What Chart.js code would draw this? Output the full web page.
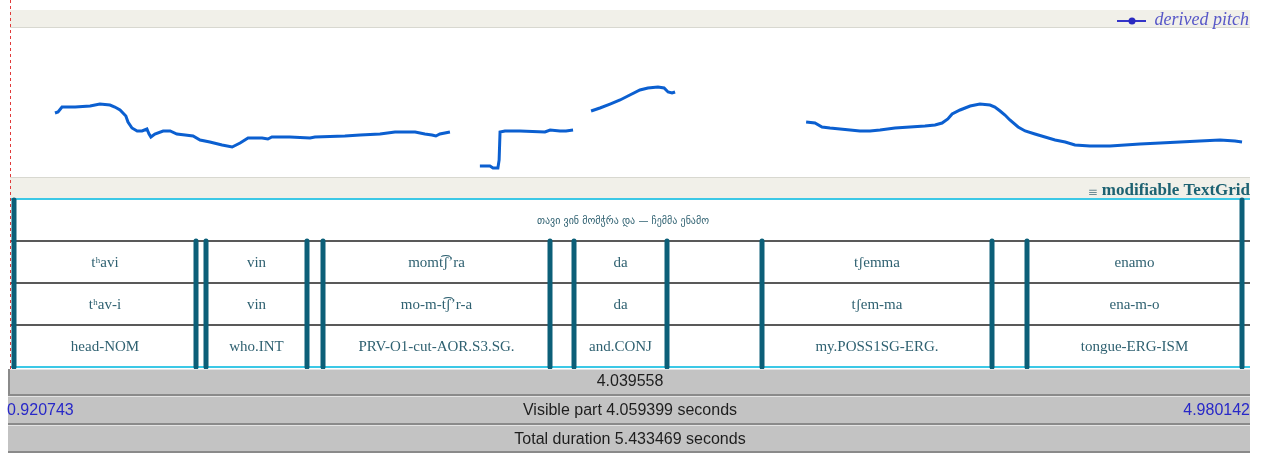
<!DOCTYPE html>
<html>
<head>
<meta charset="utf-8">
<script src="https://cdn.jsdelivr.net/npm/chart.js@4"></script>
<style>
  html, body { margin: 0; padding: 0; background: #fff; overflow: hidden; }
  canvas { display: block; }
</style>
</head>
<body>
<canvas id="grafico" width="1262" height="453"></canvas>
<script>
// visible window (seconds)
const visibleStart = 0.920743;
const visibleEnd   = 4.980142;
const selectionDur = 4.039558;
const visibleDur   = 4.059399;
const totalDur     = 5.433469;

// derived pitch (s, Hz); null = unvoiced gap
const pitchTimes = [
  1.068, 1.078, 1.091, 1.134, 1.183, 1.215, 1.248, 1.264, 1.281, 1.300, 1.307, 1.320, 1.337, 1.353,
  1.369, 1.376, 1.382, 1.395, 1.422, 1.445, 1.467, 1.494, 1.520, 1.543, 1.575, 1.615, 1.648, 1.674,
  1.700, 1.746, 1.765, 1.778, 1.837, 1.903, 1.919, 2.017, 2.067, 2.132, 2.181, 2.247, 2.279, 2.302,
  2.315, 2.328, 2.361,
  2.410,
  2.459, 2.492, 2.502, 2.518, 2.522, 2.525, 2.541, 2.590, 2.672, 2.689, 2.721, 2.741, 2.764,
  2.790,
  2.823, 2.852, 2.885, 2.918, 2.950, 2.983, 3.009, 3.042, 3.062, 3.075, 3.088, 3.098,
  3.300,
  3.527, 3.556, 3.579, 3.605, 3.638, 3.671, 3.703, 3.736, 3.769, 3.818, 3.867, 3.916, 3.949, 3.972,
  3.991, 4.005, 4.031, 4.064, 4.096, 4.129, 4.145, 4.162, 4.178, 4.194, 4.221, 4.244, 4.276, 4.309,
  4.342, 4.375, 4.407, 4.456, 4.522, 4.571, 4.620, 4.686, 4.751, 4.816, 4.882, 4.931, 4.954
];
const pitchHz = [
  171.6, 173.2, 180.7, 180.7, 182.2, 185.2, 183.7, 180.7, 176.2, 167.1, 158.1, 149.0, 144.5, 144.5,
  147.5, 139.9, 135.4, 139.9, 144.5, 144.5, 139.9, 138.4, 136.9, 130.9, 127.9, 123.3, 120.3, 126.3,
  133.9, 133.9, 132.4, 135.4, 135.4, 133.9, 135.4, 136.9, 138.4, 139.9, 143.0, 143.0, 139.9, 138.4,
  136.9, 139.9, 143.0,
  null,
  91.6, 91.6, 88.6, 88.6, 100.7, 143.0, 144.5, 144.5, 143.0, 146.0, 144.5, 144.5, 146.0,
  null,
  174.7, 179.2, 185.2, 191.3, 198.8, 206.4, 209.4, 210.9, 209.4, 203.4, 201.8, 203.4,
  null,
  158.1, 156.5, 150.5, 149.0, 147.5, 146.0, 144.5, 144.5, 146.0, 149.0, 150.5, 152.0, 153.5, 156.5,
  162.6, 170.1, 176.2, 182.2, 185.2, 183.7, 180.7, 174.7, 168.6, 161.1, 150.5, 144.5, 139.9, 135.4,
  130.9, 127.9, 123.3, 121.8, 121.8, 123.3, 124.8, 126.3, 127.9, 129.4, 130.9, 129.4, 127.9
];
const pitchMin = 75;
const pitchMax = 300;

// TextGrid
const boundaryTimes = [0.9338, 1.5297, 1.5624, 1.8930, 1.9454, 2.6885, 2.7671, 3.0716, 3.3826, 4.1355, 4.2501, 4.9539];
const sentenceLabel = 'თავი ვინ მომჭრა და — ჩემმა ენამო';
const wordLabels  = ['tʰavi', '', 'vin', '', 'momt͡ʃ\u2019ra', '', 'da', '', 'tʃemma', '', 'enamo'];
const morphLabels = ['tʰav-i', '', 'vin', '', 'mo-m-t͡ʃ\u2019r-a', '', 'da', '', 'tʃem-ma', '', 'ena-m-o'];
const glossLabels = ['head-NOM', '', 'who.INT', '', 'PRV-O1-cut-AOR.S3.SG.', '', 'and.CONJ', '', 'my.POSS1SG-ERG.', '', 'tongue-ERG-ISM'];

const pitchPoints = pitchTimes.map((t, i) => ({ x: t, y: pitchHz[i] }));

const tierTop = 199, tierH = 42;
const labelColor = '#2f6171';
const boundColor = '#0c5f78';

function grayBar(c, x0, x1, y0, y1) {
  c.fillStyle = '#c3c3c3';
  c.fillRect(x0, y0, x1 - x0, y1 - y0);
  c.fillStyle = '#8a8a8a';
  c.fillRect(x0, y1 - 2, x1 - x0, 2);
  c.fillStyle = '#e4e4e4';
  c.fillRect(x0, y0, x1 - x0, 1);
}

const praatPlugin = {
  id: 'praat',
  beforeDraw(chart) {
    const c = chart.ctx, a = chart.chartArea;
    c.save();
    c.fillStyle = '#fff';
    c.fillRect(0, 0, chart.width, chart.height);
    // top bar and TextGrid header bar
    c.fillStyle = '#f1f0e9';
    c.fillRect(a.left, 10, a.right - a.left, a.top - 10);
    c.fillRect(a.left, a.bottom, a.right - a.left, tierTop - a.bottom);
    c.fillStyle = '#d8d8d0';
    c.fillRect(a.left, a.top - 1, a.right - a.left, 1);
    c.fillRect(a.left, a.bottom, a.right - a.left, 1);
    c.restore();
  },
  afterDraw(chart) {
    const c = chart.ctx, a = chart.chartArea, xs = chart.scales.x;
    c.save();

    // legend
    c.strokeStyle = '#3434c8'; c.lineWidth = 2;
    c.beginPath(); c.moveTo(1117, 21); c.lineTo(1146, 21); c.stroke();
    c.fillStyle = '#2a2ac0';
    c.beginPath(); c.arc(1132, 21, 3.5, 0, Math.PI * 2); c.fill();
    c.font = 'italic 18px "Liberation Serif", serif';
    c.fillStyle = '#5858c8';
    c.textAlign = 'right'; c.textBaseline = 'middle';
    c.fillText('derived pitch', 1249, 20);

    // header
    c.font = 'bold 17px "Liberation Serif", serif';
    c.fillStyle = '#1d6272';
    c.fillText('modifiable TextGrid', 1250, 191);
    const w = c.measureText('modifiable TextGrid').width;
    c.font = '12px "DejaVu Sans", sans-serif';
    c.fillStyle = '#6a8a94';
    c.fillText('≡', 1250 - w - 4, 193);

    // TextGrid area
    c.fillStyle = '#fff';
    c.fillRect(a.left, tierTop, a.right - a.left, tierH * 4);
    c.strokeStyle = '#595959'; c.lineWidth = 2;
    for (let k = 1; k < 4; k++) {
      const y = tierTop + k * tierH;
      c.beginPath(); c.moveTo(a.left, y); c.lineTo(a.right, y); c.stroke();
    }
    c.strokeStyle = '#3cc8e6'; c.lineWidth = 2;
    c.beginPath(); c.moveTo(a.left, tierTop); c.lineTo(a.right, tierTop); c.stroke();
    c.beginPath(); c.moveTo(a.left, tierTop + tierH * 4); c.lineTo(a.right, tierTop + tierH * 4); c.stroke();

    // labels
    c.fillStyle = labelColor;
    c.textAlign = 'center';
    c.font = '10px "DejaVu Sans", sans-serif';
    const xa = xs.getPixelForValue(boundaryTimes[0]);
    const xb = xs.getPixelForValue(boundaryTimes[boundaryTimes.length - 1]);
    c.fillText(sentenceLabel, (xa + xb) / 2 - 5, tierTop + tierH / 2 + 1);
    c.font = '15px "Liberation Serif", serif';
    [wordLabels, morphLabels, glossLabels].forEach((labels, k) => {
      const yc = tierTop + (k + 1) * tierH + tierH / 2 + 1;
      labels.forEach((lab, i) => {
        if (!lab) return;
        const x0 = xs.getPixelForValue(boundaryTimes[i]);
        const x1 = xs.getPixelForValue(boundaryTimes[i + 1]);
        c.fillText(lab, (x0 + x1) / 2, yc);
      });
    });

    // boundaries
    c.strokeStyle = boundColor; c.lineWidth = 5; c.lineCap = 'round';
    boundaryTimes.forEach((t, i) => {
      const x = Math.round(xs.getPixelForValue(t));
      const full = i === 0 || i === boundaryTimes.length - 1;
      c.beginPath();
      c.moveTo(x, full ? tierTop + 1 : tierTop + tierH);
      c.lineTo(x, tierTop + tierH * 4);
      c.stroke();
    });

    // bottom bars
    const bx0 = 8, bx1 = a.right;
    grayBar(c, bx0, bx1, 369, 396);
    grayBar(c, bx0, bx1, 396, 425);
    grayBar(c, bx0, bx1, 425, 453);
    c.fillStyle = '#8a8a8a';
    c.fillRect(bx0, 369, 2, 27);
    c.font = '16px "Liberation Sans", Arial, sans-serif';
    c.fillStyle = '#1e1e1e';
    c.textAlign = 'center';
    c.fillText(selectionDur.toFixed(6), (a.left + a.right) / 2, 382);
    c.fillText('Visible part ' + visibleDur.toFixed(6) + ' seconds', (a.left + a.right) / 2, 411);
    c.fillText('Total duration ' + totalDur.toFixed(6) + ' seconds', (a.left + a.right) / 2, 440);
    c.fillStyle = '#2828c8';
    c.textAlign = 'left';
    c.fillText(visibleStart.toFixed(6), bx0 - 1, 411);
    c.textAlign = 'right';
    c.fillText(visibleEnd.toFixed(6), bx1, 411);

    // red dashed cursor line
    c.strokeStyle = '#e03a3a'; c.lineWidth = 1; c.lineCap = 'butt';
    c.setLineDash([3, 3]);
    c.beginPath(); c.moveTo(10.5, 0); c.lineTo(10.5, 372); c.stroke();
    c.restore();
  }
};

new Chart(document.getElementById('grafico').getContext('2d'), {
  type: 'line',
  data: {
    datasets: [{
      label: 'derived pitch',
      data: pitchPoints,
      borderColor: '#0b5fd0',
      borderWidth: 3,
      pointRadius: 0,
      tension: 0,
      spanGaps: false
    }]
  },
  options: {
    responsive: false,
    animation: false,
    devicePixelRatio: 1,
    layout: { padding: { left: 10, right: 12, top: 28, bottom: 276 } },
    plugins: { legend: { display: false }, tooltip: { enabled: false } },
    scales: {
      x: { type: 'linear', min: visibleStart, max: visibleEnd, display: false },
      y: { min: pitchMin, max: pitchMax, display: false }
    }
  },
  plugins: [praatPlugin]
});
</script>
</body>
</html>
